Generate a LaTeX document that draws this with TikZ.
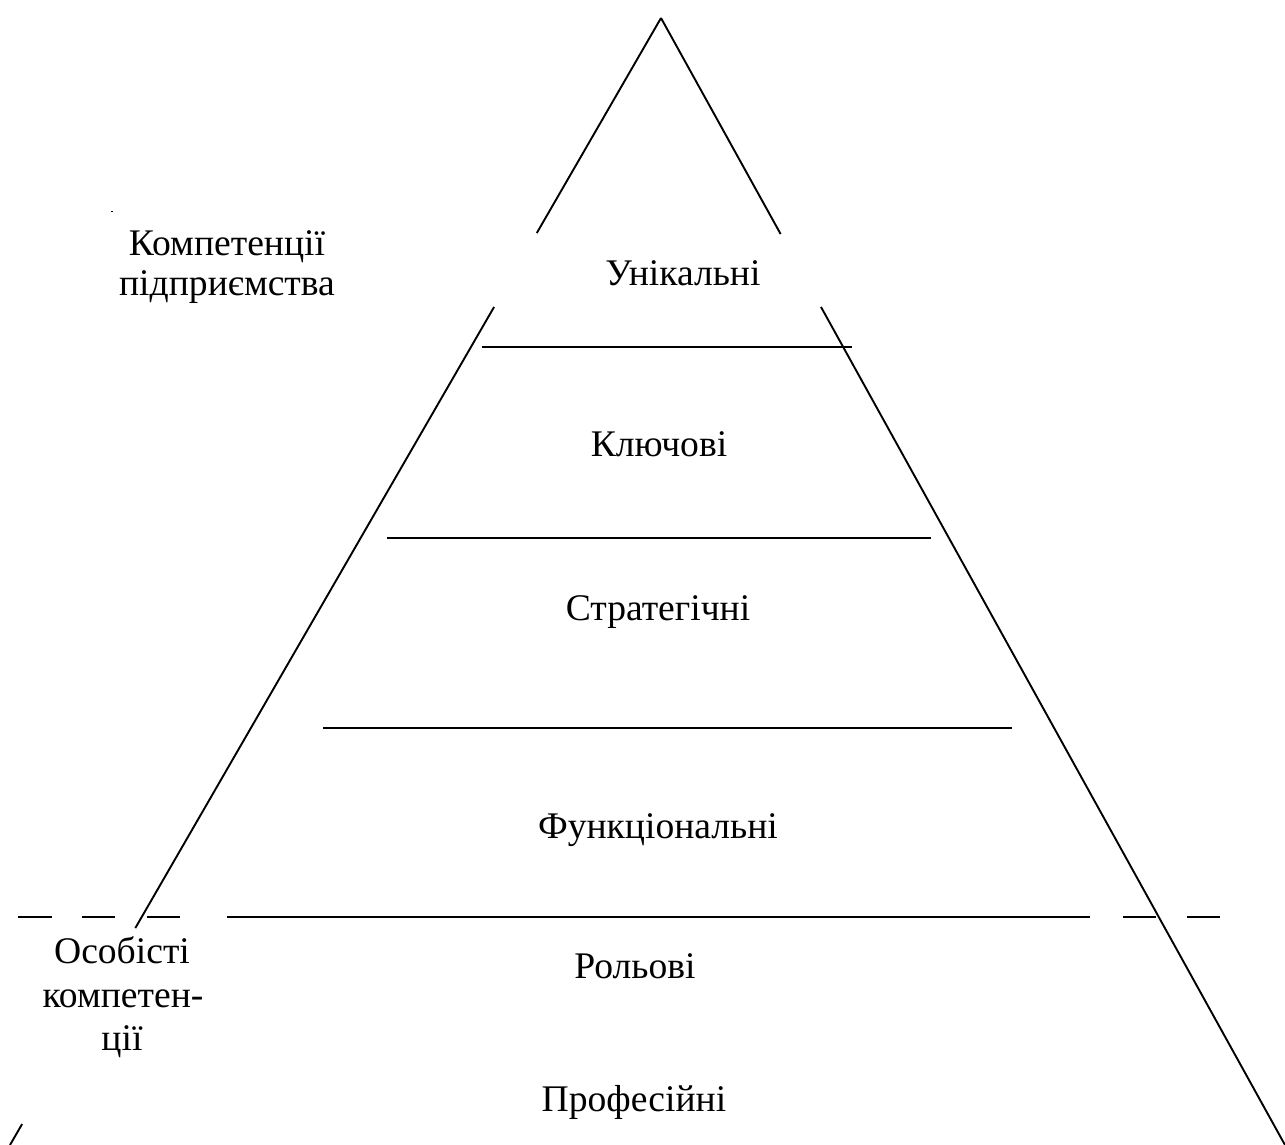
\documentclass[tikz,border=0pt]{standalone}
\usepackage{fontspec}
\setmainfont{Liberation Serif}
\usetikzlibrary{calc}
\begin{document}
\begin{tikzpicture}[x=0.5pt,y=-0.5pt,
  edge/.style={line width=0.95pt, line cap=butt},
  label/.style={anchor=base, inner sep=0pt, font=\fontsize{18.8pt}{22pt}\selectfont}]
\useasboundingbox (0,0) rectangle (1285,1145);

% pyramid corners
\coordinate (apex) at (661,18);
\coordinate (baseL) at (10,1145);
\coordinate (baseR) at (1285,1145);

% left side, broken where the captions sit
\draw[edge] (apex) -- ($(apex)!0.1908!(baseL)$);
\draw[edge] ($(apex)!0.2564!(baseL)$) -- ($(apex)!0.8075!(baseL)$);
\draw[edge] ($(apex)!0.9814!(baseL)$) -- (baseL);

% right side
\draw[edge] (apex) -- ($(apex)!0.1917!(baseR)$);
\draw[edge] ($(apex)!0.2564!(baseR)$) -- (baseR);

% level separators
\coordinate (s1a) at (482,347);  \coordinate (s1b) at (852,347);
\coordinate (s2a) at (387,538);  \coordinate (s2b) at (931,538);
\coordinate (s3a) at (323,728);  \coordinate (s3b) at (1012,728);
\draw[edge] (s1a) -- (s1b);
\draw[edge] (s2a) -- (s2b);
\draw[edge] (s3a) -- (s3b);

% boundary between enterprise and personal competences
\foreach \xa/\xb in {18/52, 82/115, 147/180, 227/1090, 1123/1156, 1187/1220}
  \draw[edge] (\xa,917) -- (\xb,917);

% small stray mark
\draw[line width=0.4pt] (111,211) -- (113,211);

% captions
\node[label] (firm1) at (227,255) {Компетенції};
\node[label] (firm2) at (227,295) {підприємства};
\node[label] (uniq) at (683,285) {Унікальні};
\node[label] (key) at (659,456) {Ключові};
\node[label] (strat) at (658,620) {Стратегічні};
\node[label] (func) at (658,838) {Функціональні};
\node[label] (role) at (635,978) {Рольові};
\node[label] (prof) at (634,1111) {Професійні};
\node[label] (pers1) at (122,963) {Особісті};
\node[label] (pers2) at (123,1007) {компетен-};
\node[label] (pers3) at (122,1050) {ції};
\end{tikzpicture}
\end{document}
